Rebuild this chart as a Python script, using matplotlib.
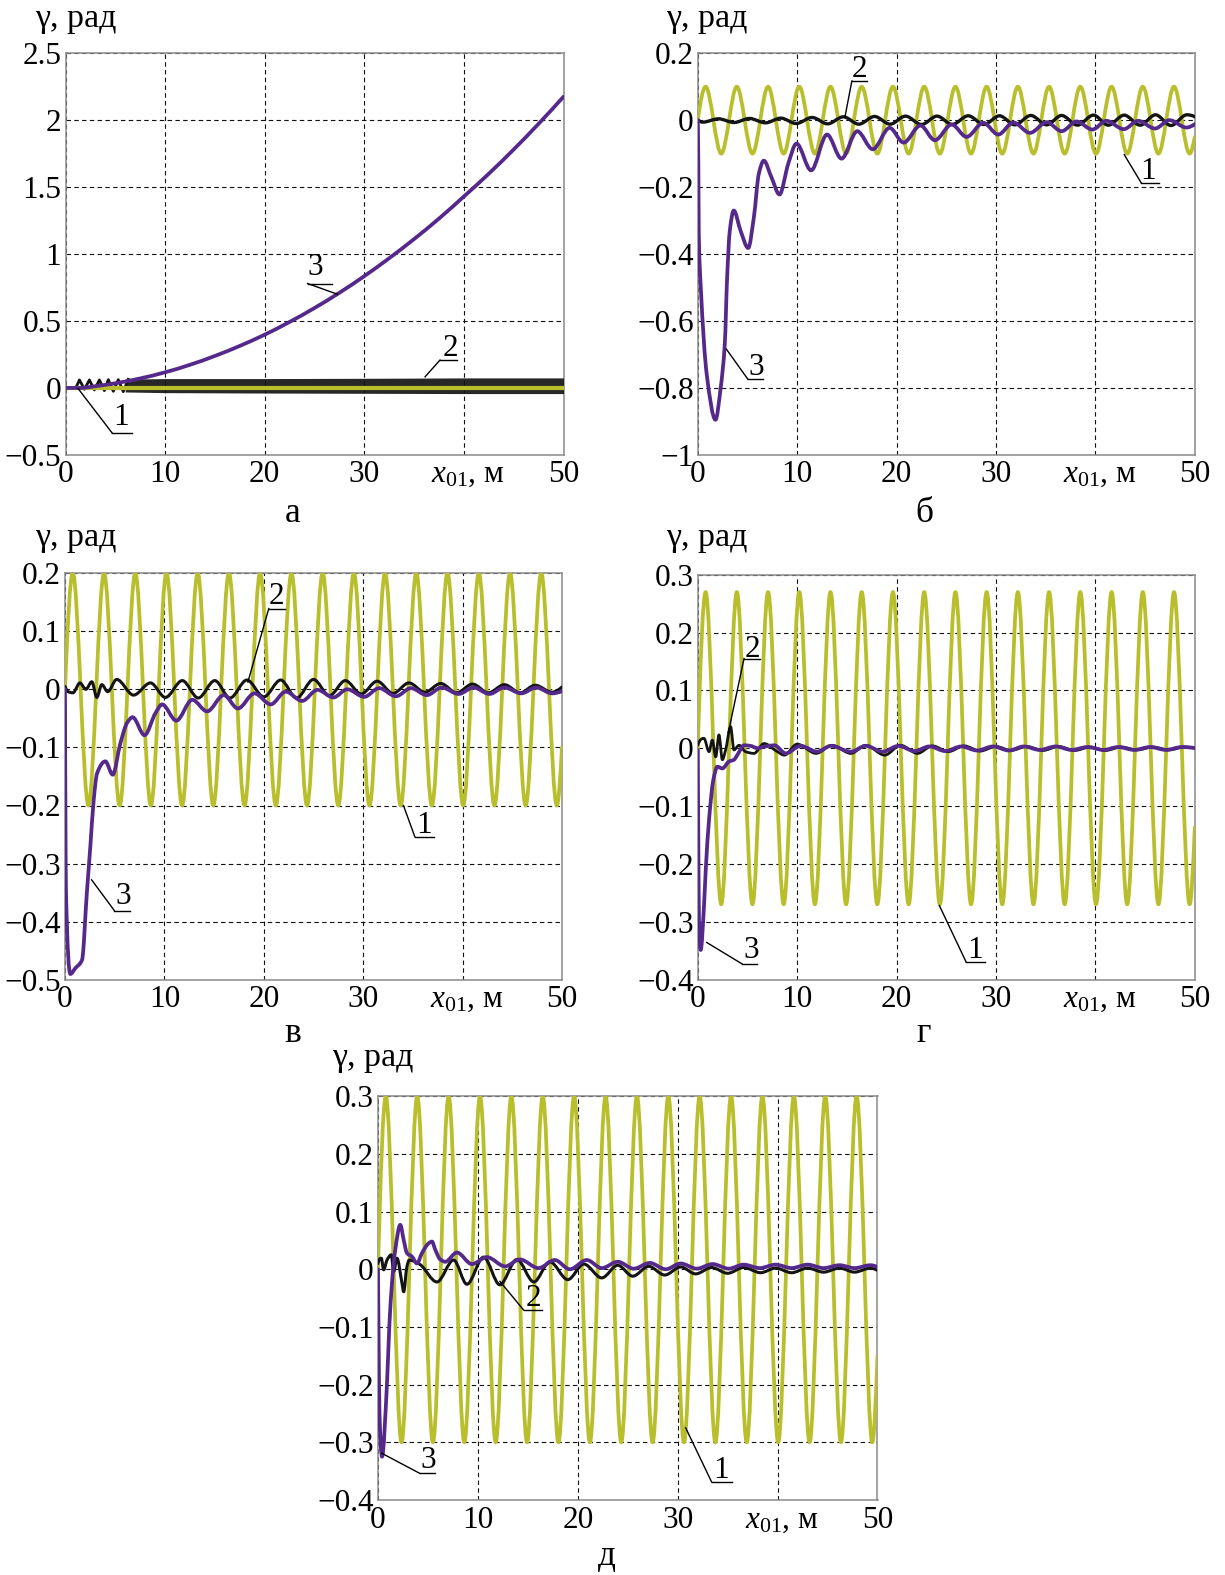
import numpy as np
import matplotlib
matplotlib.use('Agg')
import matplotlib.pyplot as plt
from matplotlib.path import Path
from matplotlib.patches import PathPatch

plt.rcParams['font.family'] = ['Liberation Serif', 'DejaVu Serif']
plt.rcParams['mathtext.fontset'] = 'custom'
plt.rcParams['mathtext.rm'] = 'Liberation Serif'
plt.rcParams['mathtext.it'] = 'Liberation Serif:italic'

# ---------------- data ----------------
# extrema of the reference oscillation (curve 1), shared x positions
x1 = [0, 0.785, 2.356, 3.927, 5.498, 7.069, 8.639, 10.21, 11.78, 13.35, 14.92,
      16.49, 18.06, 19.63, 21.21, 22.78, 24.35, 25.92, 27.49, 29.06, 30.63,
      32.2, 33.77, 35.34, 36.91, 38.48, 40.06, 41.63, 43.2, 44.77, 46.34,
      47.91, 49.48, 50]
y1_b = [0, 0.1, -0.1, 0.1, -0.1, 0.1, -0.1, 0.1, -0.1, 0.1, -0.1, 0.1, -0.1,
        0.1, -0.1, 0.1, -0.1, 0.1, -0.1, 0.1, -0.1, 0.1, -0.1, 0.1, -0.1, 0.1,
        -0.1, 0.1, -0.1, 0.1, -0.1, 0.1, -0.1, -0.05]
y1_v = [0, 0.2, -0.2, 0.2, -0.2, 0.2, -0.2, 0.2, -0.2, 0.2, -0.2, 0.2, -0.2,
        0.2, -0.2, 0.2, -0.2, 0.2, -0.2, 0.2, -0.2, 0.2, -0.2, 0.2, -0.2, 0.2,
        -0.2, 0.2, -0.2, 0.2, -0.2, 0.2, -0.2, -0.1]
y1_g = [0, 0.27, -0.27, 0.27, -0.27, 0.27, -0.27, 0.27, -0.27, 0.27, -0.27,
        0.27, -0.27, 0.27, -0.27, 0.27, -0.27, 0.27, -0.27, 0.27, -0.27, 0.27,
        -0.27, 0.27, -0.27, 0.27, -0.27, 0.27, -0.27, 0.27, -0.27, 0.27, -0.27,
        -0.137]
y1_d = [0, 0.3, -0.3, 0.3, -0.3, 0.3, -0.3, 0.3, -0.3, 0.3, -0.3, 0.3, -0.3,
        0.3, -0.3, 0.3, -0.3, 0.3, -0.3, 0.3, -0.3, 0.3, -0.3, 0.3, -0.3, 0.3,
        -0.3, 0.3, -0.3, 0.3, -0.3, 0.3, -0.3, -0.15]

# panel a
xa1 = [0, 50]
ya1 = [0, 0]
xa2 = [0, 1.0, 1.4, 1.9, 2.4, 2.9, 3.4, 3.9, 4.3, 4.8, 5.3, 5.8, 6.3]
ya2 = [0, -0.005, 0.06, -0.01, 0.06, -0.015, 0.06, -0.02, 0.062, -0.025,
       0.062, -0.028, 0.064]
xa2_band = [6, 10, 20, 30, 40, 50]
ya2_hi = [0.066, 0.07, 0.07, 0.072, 0.075, 0.075]
ya2_lo = [-0.03, -0.035, -0.038, -0.04, -0.042, -0.042]
xa3 = [0, 1.5, 3, 5, 7.5, 10, 12.5, 15, 17.5, 20, 22.5, 25, 27.5, 30, 32.5,
       35, 37.5, 40, 42.5, 45, 47.5, 50]
ya3 = [0, 0.0, 0.013, 0.035, 0.071, 0.117, 0.173, 0.239, 0.314, 0.398, 0.493,
       0.597, 0.711, 0.835, 0.969, 1.112, 1.265, 1.43, 1.60, 1.781, 1.973, 2.175]

# panel b
xb2 = [0, 0.5, 2.08, 3.65, 5.2, 6.8, 8.36, 9.9, 11.5, 13.07, 14.64, 16.2,
       17.78, 19.35, 20.9, 22.5, 24.07, 25.6, 27.2, 28.8, 30.35, 31.9, 33.5,
       35.1, 36.6, 38.2, 39.8, 41.3, 42.9, 44.5, 46.05, 47.6, 49.2, 50]
yb2 = [0, -0.006, 0.004, -0.007, 0.005, -0.008, 0.006, -0.01, 0.008, -0.011,
       0.01, -0.012, 0.011, -0.012, 0.012, -0.013, 0.012, -0.013, 0.013,
       -0.013, 0.013, -0.014, 0.014, -0.014, 0.014, -0.015, 0.015, -0.015,
       0.015, -0.015, 0.016, -0.016, 0.016, 0.01]
xb3 = [0, 0.05, 0.1, 0.3, 0.9, 1.78, 2.3, 2.72, 2.95, 3.22, 3.62, 4.3, 5.07,
       5.64, 6.14, 6.64, 7.4, 8.22, 9.1, 9.93, 11.4, 13.0, 14.46, 16.04, 17.6,
       19.3, 20.7, 22.4, 23.85, 25.54, 27.04, 28.72, 30.23, 31.74, 33.42, 35.1,
       36.6, 38.1, 39.7, 41.1, 42.85, 44.3, 46.0, 47.45, 49.15, 50]
yb3 = [0, -0.12, -0.34, -0.5, -0.76, -0.895, -0.8, -0.666, -0.47, -0.33,
       -0.27, -0.33, -0.382, -0.29, -0.16, -0.121, -0.17, -0.222, -0.13,
       -0.07, -0.15, -0.043, -0.115, -0.033, -0.087, -0.023, -0.067, -0.016,
       -0.06, -0.013, -0.05, -0.008, -0.043, -0.007, -0.038, -0.006, -0.033,
       -0.004, -0.028, -0.002, -0.027, -0.002, -0.025, 0.0, -0.022, -0.012]

# panel v
xv2 = [0, 0.3, 0.8, 1.5, 2.1, 2.7, 3.2, 3.7, 4.3, 5.2, 6.9, 8.6, 10.1, 11.8,
       13.4, 15.07, 16.6, 18.3, 20.0, 21.7, 23.3, 25.0, 26.6, 28.2, 29.8,
       31.4, 33.0, 34.6, 36.2, 37.8, 39.4, 41.0, 42.6, 44.2, 45.8, 47.3, 49.0,
       50]
yv2 = [0.005, -0.004, -0.006, 0.011, 0.0, 0.013, -0.014, 0.008, -0.004,
       0.017, -0.01, 0.011, -0.014, 0.015, -0.015, 0.015, -0.015, 0.016,
       -0.013, 0.016, -0.015, 0.017, -0.011, 0.015, -0.008, 0.014, -0.007,
       0.011, -0.005, 0.010, -0.006, 0.009, -0.006, 0.008, -0.006, 0.007,
       -0.005, 0.004]
xv3 = [0, 0.03, 0.1, 0.54, 1.04, 1.71, 2.2, 2.55, 2.89, 3.22, 4.06, 4.8, 5.57,
       6.24, 6.8, 8.0, 9.1, 9.77, 11.2, 12.8, 14.3, 15.97, 17.4, 19.06, 20.7,
       22.2, 23.85, 25.4, 27.0, 28.4, 30.1, 31.6, 33.3, 34.8, 36.4, 37.9,
       39.6, 41.1, 42.7, 44.2, 45.9, 47.4, 49.0, 50]
yv3 = [0, -0.16, -0.35, -0.49, -0.48, -0.466, -0.35, -0.27, -0.19, -0.145,
       -0.124, -0.147, -0.093, -0.058, -0.048, -0.079, -0.041, -0.026, -0.054,
       -0.018, -0.038, -0.01, -0.033, -0.007, -0.026, -0.004, -0.02, -0.001,
       -0.014, 0.0, -0.013, 0.002, -0.012, 0.002, -0.01, 0.003, -0.008, 0.003,
       -0.008, 0.003, -0.007, 0.003, -0.007, -0.003]

# panel g
xg2 = [0, 0.62, 1.13, 1.46, 1.8, 2.13, 2.47, 2.8, 3.3, 3.64, 4.15, 4.8, 5.65,
       6.66, 8.0, 8.7, 10.0, 11.9, 13.5, 15.4, 16.9, 18.8, 20.4, 22.1, 23.6,
       25.2, 26.8, 28.4, 30.0, 31.5, 33.1, 34.7, 36.3, 37.9, 39.5, 41.0, 42.6,
       44.2, 45.8, 47.4, 49.0, 50]
yg2 = [0.005, 0.017, -0.006, 0.014, -0.015, 0.023, -0.02, -0.003, 0.037,
       -0.003, 0.005, -0.006, -0.009, 0.008, -0.006, -0.012, 0.007, -0.009,
       0.005, -0.009, 0.005, -0.012, 0.005, -0.009, 0.004, -0.006, 0.004,
       -0.005, 0.003, -0.004, 0.003, -0.004, 0.003, -0.004, 0.002, -0.004,
       0.002, -0.003, 0.002, -0.003, 0.002, 0.0]
xg3 = [0, 0.05, 0.12, 0.29, 0.62, 0.8, 1.13, 1.56, 1.97, 2.47, 3.14, 3.64,
       3.97, 4.65, 5.3, 6.0, 6.8, 7.7, 8.85, 10.35, 12.0, 13.4, 15.4, 16.9,
       18.6, 20.2, 21.8, 23.3, 24.9, 26.5, 28.1, 29.7, 31.3, 32.8, 34.4, 36.0,
       37.6, 39.2, 40.8, 42.3, 43.9, 45.5, 47.1, 48.7, 50]
yg3 = [-0.003, -0.15, -0.297, -0.349, -0.274, -0.21, -0.124, -0.055, -0.032,
       -0.035, -0.023, -0.02, -0.012, 0.005, 0.004, 0.0, 0.003, 0.005, -0.009,
       0.004, -0.006, 0.004, -0.006, 0.004, -0.006, 0.004, -0.005, 0.003,
       -0.005, 0.003, -0.004, 0.003, -0.004, 0.003, -0.003, 0.003, -0.003,
       0.002, -0.003, 0.002, -0.003, 0.002, -0.003, 0.002, 0.0]

# panel d
xd2 = [0, 0.33, 0.57, 0.9, 1.33, 1.57, 1.9, 2.4, 2.57, 2.9, 3.13, 3.73, 4.23,
       5.9, 7.57, 8.9, 10.57, 12.2, 13.9, 15.6, 17.2, 19.0, 20.6, 22.4, 24.0,
       25.5, 27.1, 28.7, 30.3, 31.8, 33.4, 35.0, 36.6, 38.3, 39.8, 41.4, 43.0,
       44.6, 46.2, 47.7, 49.3, 50]
yd2 = [0.01, 0.019, -0.001, 0.016, 0.025, -0.004, 0.019, -0.024, -0.039,
       0.005, 0.016, 0.013, 0.008, -0.022, 0.016, -0.026, 0.021, -0.027,
       0.017, -0.022, 0.013, -0.018, 0.009, -0.015, 0.007, -0.012, 0.005,
       -0.01, 0.004, -0.008, 0.003, -0.007, 0.003, -0.006, 0.002, -0.006,
       0.002, -0.005, 0.002, -0.005, 0.002, -0.002]
xd3 = [0, 0.05, 0.15, 0.4, 0.9, 1.13, 1.4, 1.73, 2.23, 2.57, 2.9, 3.4, 3.9,
       4.4, 5.07, 5.4, 5.73, 6.23, 6.73, 7.9, 9.4, 10.9, 12.73, 14.2, 16.07,
       17.7, 19.2, 20.9, 22.4, 24.0, 25.6, 27.2, 28.8, 30.3, 31.9, 33.5, 35.1,
       36.6, 38.2, 39.8, 41.4, 43.0, 44.6, 46.2, 47.7, 49.3, 50]
yd3 = [0, -0.1, -0.25, -0.325, -0.198, -0.1, -0.024, 0.034, 0.077, 0.051,
       0.028, 0.022, 0.010, 0.028, 0.045, 0.048, 0.034, 0.017, 0.013, 0.029,
       0.009, 0.021, 0.005, 0.017, 0.002, 0.016, 0.0, 0.016, 0.002, 0.013,
       0.001, 0.011, 0.0, 0.01, 0.001, 0.009, 0.001, 0.008, 0.002, 0.008,
       0.002, 0.008, 0.002, 0.007, 0.002, 0.007, 0.004]

x_ticks = [0, 10, 20, 30, 40, 50]
x_ticklabels = ['0', '10', '20', '30', '', '50']
yt_a = [-0.5, 0, 0.5, 1, 1.5, 2, 2.5]
ytl_a = ['\u22120.5', '0', '0.5', '1', '1.5', '2', '2.5']
yt_b = [-1, -0.8, -0.6, -0.4, -0.2, 0, 0.2]
ytl_b = ['\u22121', '\u22120.8', '\u22120.6', '\u22120.4', '\u22120.2', '0', '0.2']
yt_v = [-0.5, -0.4, -0.3, -0.2, -0.1, 0, 0.1, 0.2]
ytl_v = ['\u22120.5', '\u22120.4', '\u22120.3', '\u22120.2', '\u22120.1', '0', '0.1', '0.2']
yt_g = [-0.4, -0.3, -0.2, -0.1, 0, 0.1, 0.2, 0.3]
ytl_g = ['\u22120.4', '\u22120.3', '\u22120.2', '\u22120.1', '0', '0.1', '0.2', '0.3']
panel_letters = ['а', 'б', 'в', 'г', 'д']
y_label = 'γ, рад'
x_label = '$x_{01}$, м'

# ---------------- styling ----------------
C_Y = '#b9bf2c'
C_P = '#55288c'
C_K = '#141414'
FS = 22.5
FS_LAB = 24.5
W, H = 1225, 1575

fig = plt.figure(figsize=(W / 100, H / 100), dpi=100)


def ax_px(left, top, right, bottom):
    return fig.add_axes([left / W, 1 - bottom / H, (right - left) / W, (bottom - top) / H])


def smooth_path(xs, ys):
    x = np.asarray(xs, float)
    y = np.asarray(ys, float)
    h = np.diff(x)
    d = np.diff(y) / h
    n = len(x)
    m = np.zeros(n)
    for k in range(1, n - 1):
        if d[k - 1] * d[k] > 0:
            w1 = 2 * h[k] + h[k - 1]
            w2 = h[k] + 2 * h[k - 1]
            m[k] = (w1 + w2) / (w1 / d[k - 1] + w2 / d[k])

    def endslope(h0, h1, d0, d1):
        s = ((2 * h0 + h1) * d0 - h0 * d1) / (h0 + h1)
        if np.sign(s) != np.sign(d0):
            s = 0.0
        elif np.sign(d0) != np.sign(d1) and abs(s) > abs(3 * d0):
            s = 3 * d0
        return s
    if n >= 3:
        m[0] = endslope(h[0], h[1], d[0], d[1])
        m[-1] = endslope(h[-1], h[-2], d[-1], d[-2])
    else:
        m[0] = m[-1] = d[0]
    verts = [(x[0], y[0])]
    codes = [Path.MOVETO]
    for k in range(n - 1):
        verts += [(x[k] + h[k] / 3, y[k] + m[k] * h[k] / 3),
                  (x[k + 1] - h[k] / 3, y[k + 1] - m[k + 1] * h[k] / 3),
                  (x[k + 1], y[k + 1])]
        codes += [Path.CURVE4] * 3
    return Path(verts, codes)


def curve(ax, xs, ys, color, lw, z):
    p = PathPatch(smooth_path(xs, ys), facecolor='none', edgecolor=color, lw=lw,
                  capstyle='round', joinstyle='round', zorder=z)
    ax.add_patch(p)


def setup(ax, ylim, yt, ytl):
    ax.set_xlim(0, 50)
    ax.set_ylim(*ylim)
    ax.set_xticks(x_ticks)
    ax.set_xticklabels(x_ticklabels)
    ax.set_yticks(yt)
    ax.set_yticklabels(ytl)
    ax.tick_params(length=0, labelsize=FS, pad=3)
    ax.tick_params(axis='x', pad=4)
    ax.grid(True, color='#111111', linestyle=(0, (4, 3)), linewidth=0.8)
    ax.set_axisbelow(True)
    for s in ax.spines.values():
        s.set_color('#8a8a8a')
        s.set_linewidth(1.1)
    ax.annotate(x_label, xy=(40.4, 0), xycoords=('data', 'axes fraction'),
                xytext=(0, -4), textcoords='offset points', ha='center', va='top',
                fontsize=FS)


def callout(ax, label, tx, ty, ux0, ux1, uy, px, py):
    ax.text(tx, ty, label, ha='center', va='center', fontsize=FS, zorder=10)
    ax.plot([ux0, ux1], [uy, uy], color='k', lw=1.0, clip_on=False, zorder=10)
    ax.plot([ux0, px], [uy, py], color='k', lw=1.0, clip_on=False, zorder=10)


# ---------- panel a ----------
ax = ax_px(65.5, 53.2, 563.5, 454.9)
setup(ax, (-0.5, 2.5), yt_a, ytl_a)
ax.fill_between(xa2_band, ya2_lo, ya2_hi, color=C_K, lw=0, zorder=3, alpha=0.92)
ax.plot(xa2, ya2, color=C_K, lw=2.0, zorder=3)
ax.plot(xa1, ya1, color=C_Y, lw=3.0, zorder=4)
curve(ax, xa3, ya3, C_P, 2.7, 5)
callout(ax, '3', 25.1, 0.9, 24.3, 26.8, 0.78, 27.3, 0.70)
callout(ax, '2', 38.6, 0.296, 37.6, 39.3, 0.208, 36.1, 0.083)
callout(ax, '1', 5.6, -0.218, 4.7, 6.65, -0.338, 1.27, -0.005)

# ---------- panel b ----------
ax = ax_px(697.8, 53.2, 1194.8, 454.9)
setup(ax, (-1, 0.2), yt_b, ytl_b)
curve(ax, x1, y1_b, C_Y, 2.7, 3)
curve(ax, xb2, yb2, C_K, 2.4, 4)
curve(ax, xb3, yb3, C_P, 2.7, 5)
callout(ax, '2', 16.3, 0.15, 15.5, 17.0, 0.117, 14.8, 0.009)
callout(ax, '1', 45.3, -0.152, 44.6, 46.4, -0.187, 42.9, -0.103)
callout(ax, '3', 5.9, -0.739, 5.04, 6.6, -0.774, 2.87, -0.684)

# ---------- panel v ----------
ax = ax_px(65.0, 573.1, 562.0, 979.8)
setup(ax, (-0.5, 0.2), yt_v, ytl_v)
curve(ax, x1, y1_v, C_Y, 2.7, 3)
curve(ax, xv2, yv2, C_K, 2.2, 4)
curve(ax, xv3, yv3, C_P, 2.7, 5)
callout(ax, '2', 21.3, 0.159, 20.5, 22.1, 0.139, 18.4, 0.0125)
callout(ax, '1', 36.15, -0.235, 35.2, 37.1, -0.254, 34.05, -0.2)
callout(ax, '3', 5.85, -0.357, 4.97, 6.5, -0.381, 2.68, -0.328)

# ---------- panel g ----------
ax = ax_px(697.8, 574.7, 1194.8, 979.5)
setup(ax, (-0.4, 0.3), yt_g, ytl_g)
curve(ax, x1, y1_g, C_Y, 2.7, 3)
curve(ax, xg2, yg2, C_K, 2.0, 4)
curve(ax, xg3, yg3, C_P, 2.7, 5)
callout(ax, '2', 5.5, 0.171, 4.65, 6.3, 0.155, 3.07, 0.027)
callout(ax, '1', 27.9, -0.35, 27.0, 28.9, -0.37, 24.3, -0.272)
callout(ax, '3', 5.35, -0.349, 4.45, 6.0, -0.373, 0.9, -0.336)

# ---------- panel d ----------
ax = ax_px(378.0, 1096.2, 877.5, 1500.0)
setup(ax, (-0.4, 0.3), yt_g, ytl_g)
curve(ax, x1, y1_d, C_Y, 2.7, 3)
curve(ax, xd2, yd2, C_K, 2.2, 4)
curve(ax, xd3, yd3, C_P, 2.7, 5)
callout(ax, '2', 15.6, -0.05, 14.57, 16.4, -0.0705, 12.2, -0.021)
callout(ax, '1', 34.3, -0.349, 33.4, 35.4, -0.369, 30.8, -0.275)
callout(ax, '3', 5.0, -0.331, 4.2, 5.75, -0.354, 0.38, -0.319)

# ---------- labels ----------
ylab_pos = [(35, 19), (666, 19), (35, 538), (666, 538), (332, 1058)]
for (px, py) in ylab_pos:
    fig.text(px / W, 1 - py / H, y_label, ha='left', va='center', fontsize=FS_LAB)
letter_pos = [(293, 514), (924, 514), (293, 1033), (924, 1033), (607, 1557)]
for lt, (px, py) in zip(panel_letters, letter_pos):
    fig.text(px / W, 1 - py / H, lt, ha='center', va='center', fontsize=FS_LAB + 1)

fig.savefig('out.png', dpi=100)
